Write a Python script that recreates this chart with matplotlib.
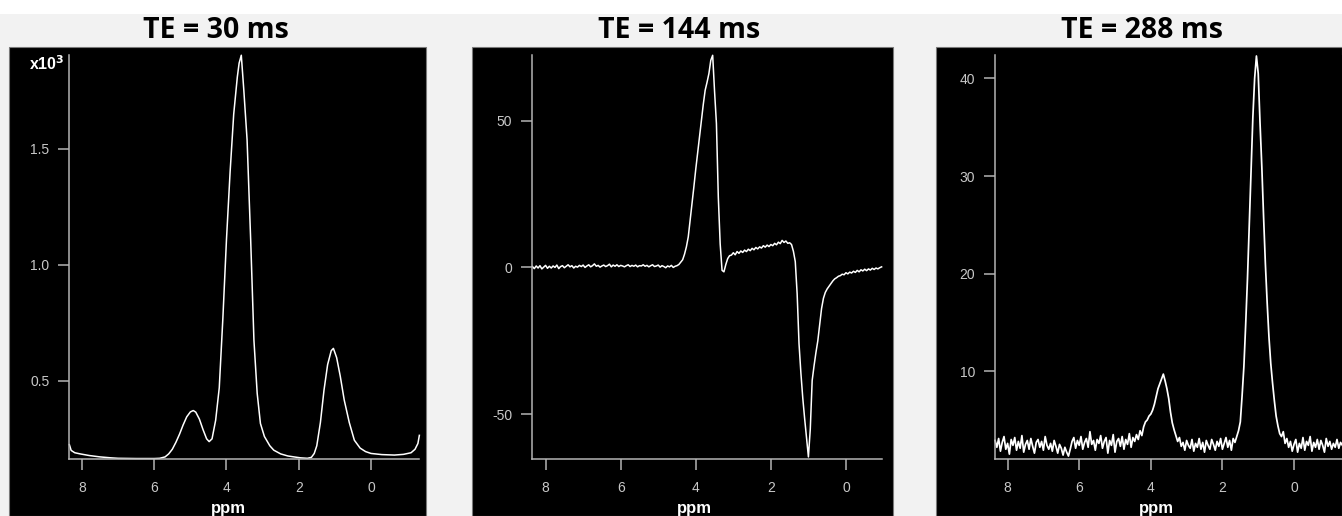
import numpy as np
import matplotlib
matplotlib.use("Agg")
import matplotlib.pyplot as plt
from matplotlib.patches import Rectangle

# ---------------- data ----------------
titles = ["TE = 30 ms", "TE = 144 ms", "TE = 288 ms"]
x_ticks = [8, 6, 4, 2, 0]

# Panel 1 (TE = 30 ms), intensity in units of 10^3
te30_ppm = [8.35, 8.30, 8.20, 8.05, 7.80, 7.50, 7.20, 7.00, 6.50, 6.00,
            5.85, 5.70, 5.60, 5.50, 5.40, 5.30, 5.20, 5.10, 5.00, 4.92,
            4.85, 4.75, 4.65, 4.55, 4.48, 4.40, 4.30, 4.20, 4.10, 4.00,
            3.90, 3.80, 3.70, 3.65, 3.59, 3.52, 3.43, 3.33, 3.24, 3.15,
            3.06, 2.95, 2.80, 2.69, 2.50, 2.30, 2.13, 1.95, 1.76, 1.65,
            1.57, 1.50, 1.40, 1.30, 1.20, 1.10, 1.04, 0.95, 0.85, 0.74,
            0.60, 0.46, 0.30, 0.15, 0.00, -0.30, -0.65, -0.90, -1.11, -1.22,
            -1.30, -1.34]
te30_val = [0.225, 0.200, 0.190, 0.185, 0.178, 0.172, 0.168, 0.166, 0.165, 0.165,
            0.166, 0.172, 0.185, 0.205, 0.235, 0.270, 0.310, 0.345, 0.366, 0.372,
            0.365, 0.335, 0.290, 0.250, 0.238, 0.250, 0.330, 0.470, 0.770, 1.110,
            1.400, 1.650, 1.810, 1.870, 1.904, 1.753, 1.540, 1.107, 0.675, 0.446,
            0.316, 0.260, 0.220, 0.201, 0.185, 0.176, 0.172, 0.168, 0.166, 0.170,
            0.187, 0.220, 0.320, 0.460, 0.570, 0.630, 0.640, 0.600, 0.520, 0.417,
            0.320, 0.244, 0.210, 0.195, 0.187, 0.182, 0.180, 0.183, 0.190, 0.205,
            0.230, 0.265]

# Panel 2 (TE = 144 ms): sampled every 0.05 ppm from 8.35 to -0.95
te144_start, te144_stop = 8.35, -0.95
te144_val = [
    0.3, -0.4, 0.5, -0.2, 0.6, -0.5, 0.1, 0.7, -0.3, 0.4,        # 8.35
    -0.2, 0.5, 0.0, 0.8, -0.4, 0.3, 0.6, -0.1, 0.4, 0.9,         # 7.85
    0.2, 0.6, -0.2, 0.4, 0.1, 0.7, 0.3, 0.8, 0.0, 0.5,           # 7.35
    0.9, 0.2, 0.6, 1.2, 0.4, 0.7, 0.1, 0.5, 0.8, 0.3,            # 6.85
    0.6, 1.1, 0.2, 0.8, 0.4, 0.9, 0.3, 0.7, 0.5, 0.2,            # 6.35
    0.6, 0.9, 0.3, 0.7, 0.4, 0.8, 0.2, 0.6, 0.5, 0.9,            # 5.85
    0.4, 0.7, 0.2, 0.6, 0.9, 0.3, 0.5, 0.8, 0.1, 0.6,            # 5.35
    0.3, -0.1, 0.5, 0.2, 0.7, 0.0, 0.4, 0.6, 1.0, 1.8,           # 4.85
    2.6, 4.5, 7.0, 10.4, 16.0, 21.5, 27.5, 33.5, 39.0, 44.5,     # 4.35
    50.0, 55.5, 60.3, 63.0, 66.0, 70.5, 72.2, 60.0, 49.0, 24.0,  # 3.85
    8.0, -1.0, -1.5, 1.0, 3.0, 4.0, 4.2, 5.0, 4.3, 5.4,          # 3.35
    4.8, 5.6, 5.1, 5.9, 5.4, 6.2, 5.7, 6.5, 6.0, 6.8,            # 2.85
    6.3, 7.0, 6.6, 7.4, 6.9, 7.6, 7.1, 7.8, 7.4, 8.2,            # 2.35
    7.7, 8.6, 8.1, 9.2, 8.5, 9.0, 8.2, 8.4, 7.8, 5.5,            # 1.85
    2.0, -9.0, -26.0, -36.0, -44.5, -51.5, -58.0, -64.5, -55.0, -38.5,  # 1.35
    -33.5, -29.0, -25.0, -19.5, -14.0, -10.5, -8.5, -7.3, -6.4, -5.5,   # 0.85
    -4.6, -3.9, -3.5, -3.0, -2.8, -2.3, -2.5, -1.8, -2.2, -1.6,  # 0.35
    -1.9, -1.3, -1.7, -1.0, -1.5, -0.8, -1.2, -0.6, -1.1, -0.5,  # -0.15
    -0.9, -0.3, -0.7, -0.2, -0.5, -0.1, 0.2,                     # -0.65
]

# Panel 3 (TE = 288 ms): sampled every 0.05 ppm from 8.35 to -1.35
te288_start, te288_stop = 8.35, -1.35
te288_val = [
    2.9, 2.2, 3.1, 1.8, 2.7, 3.3, 2.0, 2.6, 1.5, 3.0,            # 8.35
    2.4, 3.2, 1.9, 2.8, 2.1, 3.4, 1.7, 2.5, 2.9, 2.0,            # 7.85
    3.1, 2.3, 1.6, 2.7, 3.0, 2.2, 2.8, 1.9, 3.3, 2.4,            # 7.35
    2.0, 2.6, 1.8, 2.9, 2.3, 1.6, 2.5, 2.1, 1.4, 2.2,            # 6.85
    1.7, 1.3, 2.0, 2.8, 3.2, 2.1, 2.9, 2.4, 3.3, 2.0,            # 6.35
    2.7, 3.1, 2.2, 3.8, 2.5, 2.9, 1.9, 3.0, 2.6, 3.4,            # 5.85
    2.1, 2.8, 3.2, 1.6, 2.9, 2.4, 3.5, 1.7, 2.8, 3.1,            # 5.35
    2.3, 3.3, 2.0, 3.0, 2.5, 3.6, 2.2, 3.2, 2.8, 3.5,            # 4.85
    3.0, 3.9, 3.4, 4.3, 4.8, 5.0, 5.4, 5.6, 6.0, 6.6,            # 4.35
    7.4, 8.2, 8.7, 9.2, 9.7, 9.0, 8.2, 7.2, 5.8, 4.7,            # 3.85
    4.0, 3.4, 2.8, 3.2, 2.3, 2.7, 1.9, 2.9, 2.4, 2.1,            # 3.35
    3.0, 1.8, 2.6, 2.2, 3.1, 2.0, 2.7, 1.7, 2.9, 2.4,            # 2.85
    2.0, 3.0, 2.5, 1.9, 2.8, 2.3, 3.1, 2.0, 2.6, 3.2,            # 2.35
    2.2, 2.9, 1.9, 3.1, 2.7, 3.3, 3.9, 4.8, 7.5, 10.5,           # 1.85
    14.8, 19.5, 25.0, 30.5, 36.0, 40.0, 42.3, 40.5, 35.5, 31.0,  # 1.35
    25.8, 21.0, 17.0, 13.5, 10.8, 8.8, 7.0, 5.4, 4.4, 3.6,       # 0.85
    3.3, 3.8, 2.6, 3.1, 2.2, 2.8, 1.8, 2.5, 3.0, 1.7,            # 0.35
    2.6, 2.1, 3.2, 1.9, 2.8, 2.4, 3.3, 1.8, 2.7, 2.2,            # -0.15
    3.0, 2.0, 2.9, 2.4, 1.7, 3.1, 2.3, 2.8, 2.0, 2.6,            # -0.65
    2.2, 3.0, 2.1, 2.7, 2.4,                                     # -1.15
]

y_ticks = [[0.5, 1.0, 1.5], [-50, 0, 50], [10, 20, 30, 40]]
y_ticklabels = [["0.5", "1.0", "1.5"], ["-50", "0", "50"], ["10", "20", "30", "40"]]

# ---------------- layout ----------------
W, H = 1342, 516
fig = plt.figure(figsize=(W / 100, H / 100), dpi=100, facecolor="#f2f2f2")

# white strip on top
fig.patches.append(Rectangle((0, (H - 14) / H), 1, 14 / H, transform=fig.transFigure,
                             facecolor="white", edgecolor="none", zorder=-10))

panels = [(9, 426), (472, 893), (936, 1342)]
for x0, x1 in panels:
    fig.patches.append(Rectangle((x0 / W, 0), (x1 - x0) / W, (H - 47) / H,
                                 transform=fig.transFigure, facecolor="black",
                                 edgecolor="#7a7a7a", lw=0.8, zorder=-5))

axes_px = [(69, 419), (531.7, 882), (994.7, 1342)]
xlims = [(8.36, -1.33), (8.37, -0.96), (8.36, -1.34)]
ylims = [(0.163, 1.905), (-65.2, 72.3), (1.0, 42.4)]
ax_top, ax_bot = 55, 459
title_cx = [215.5, 679, 1142]
ppm_cx = [228, 694.5, 1156]

series = [
    (np.array(te30_ppm), np.array(te30_val)),
    (np.linspace(te144_start, te144_stop, len(te144_val)), np.array(te144_val)),
    (np.linspace(te288_start, te288_stop, len(te288_val)), np.array(te288_val)),
]
line_w = [1.1, 1.1, 1.25]

spine_col = "#b4b4b4"
label_col = "#c8c8c8"

for i in range(3):
    l, r = axes_px[i]
    ax = fig.add_axes([l / W, (H - ax_bot) / H, (r - l) / W, (ax_bot - ax_top) / H])
    ax.set_facecolor("black")
    x, y = series[i]
    ax.plot(x, y, color="white", lw=line_w[i], clip_on=False)
    ax.set_xlim(*xlims[i])
    ax.set_ylim(*ylims[i])
    ax.set_xticks(x_ticks)
    ax.set_xticklabels([str(t) for t in x_ticks])
    ax.set_yticks(y_ticks[i])
    ax.set_yticklabels(y_ticklabels[i])
    for s in ("top", "right"):
        ax.spines[s].set_visible(False)
    for s in ("left", "bottom"):
        ax.spines[s].set_color(spine_col)
        ax.spines[s].set_linewidth(1.1)
    ax.tick_params(axis="both", direction="out", length=8, width=1.1,
                   color=spine_col, labelcolor=label_col, labelsize=10)
    ax.tick_params(axis="x", pad=8)
    ax.tick_params(axis="y", pad=6)
    for lab in ax.get_xticklabels() + ax.get_yticklabels():
        lab.set_family("Liberation Sans")

    fig.text(title_cx[i] / W, (H - 38.5) / H, titles[i], ha="center", va="baseline",
             fontsize=20.5, fontweight="bold", family="Open Sans", color="black")
    fig.text(ppm_cx[i] / W, 3.5 / H, "ppm", ha="center", va="baseline",
             fontsize=12, fontweight="bold", family="Liberation Sans", color="white")

fig.text(29 / W, (H - 70) / H, r"x10$^{\mathbf{3}}$", ha="left", va="baseline",
         fontsize=11.5, fontweight="bold", family="Liberation Sans", color="white")

fig.savefig("out.png", dpi=100, facecolor=fig.get_facecolor())
